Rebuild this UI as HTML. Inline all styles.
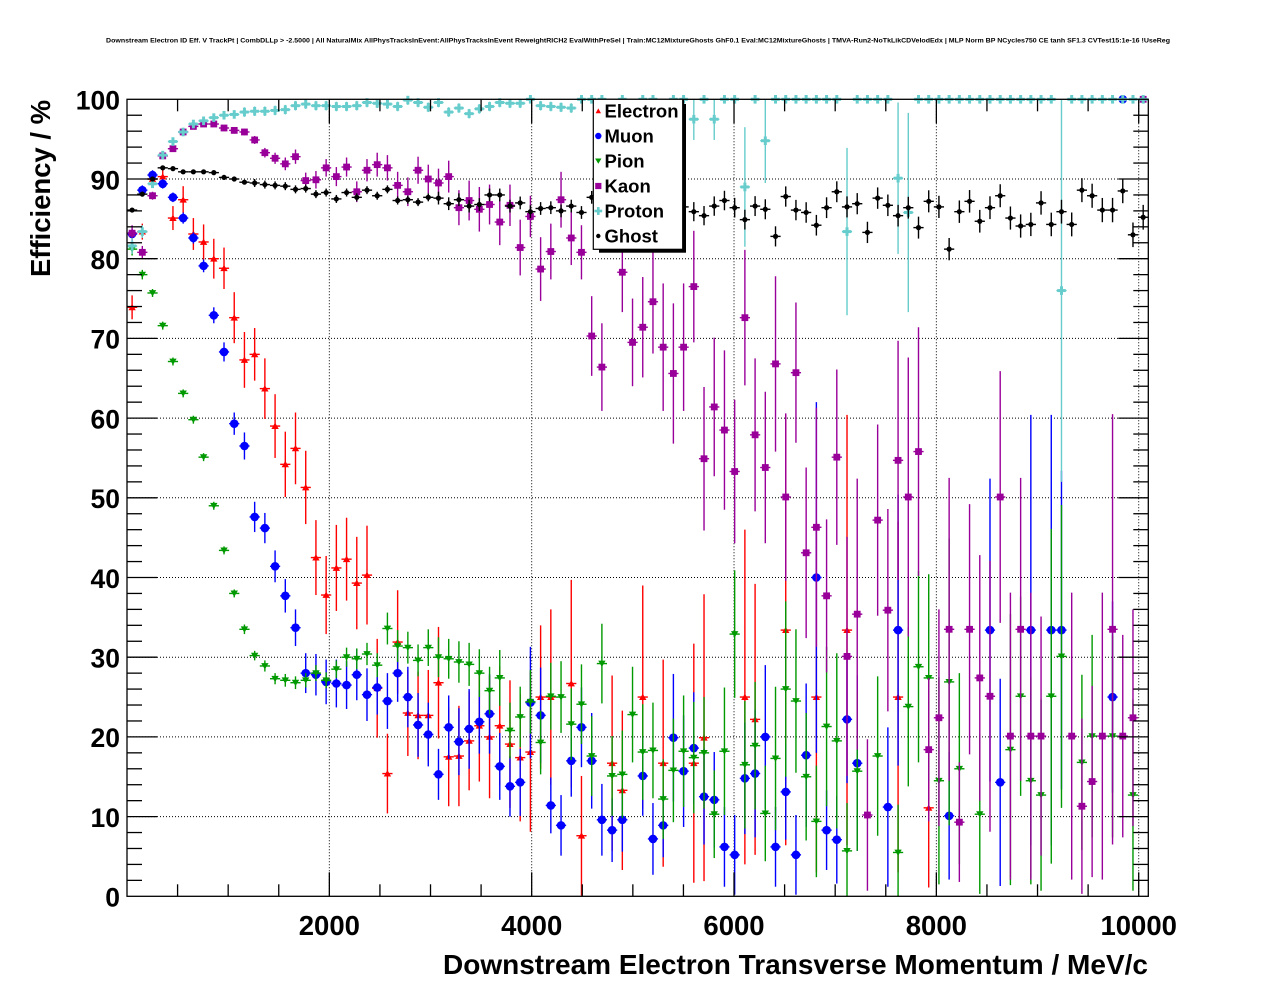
<!DOCTYPE html>
<html><head><meta charset="utf-8"><style>
html,body{margin:0;padding:0;background:#fff;}
svg{display:block;}
text{font-family:"Liberation Sans",Arial,sans-serif;font-weight:bold;fill:#000;}
</style></head><body>
<svg id="c" xmlns="http://www.w3.org/2000/svg" width="1276" height="996" viewBox="0 0 1276 996">
<rect x="0" y="0" width="1276" height="996" fill="#fff"/>
<text x="106" y="42.5" font-size="6.6" textLength="1064" lengthAdjust="spacingAndGlyphs">Downstream Electron ID Eff. V TrackPt | CombDLLp &gt; -2.5000 | All NaturalMix AllPhysTracksInEvent:AllPhysTracksInEvent ReweightRICH2 EvalWithPreSel | Train:MC12MixtureGhosts GhF0.1 Eval:MC12MixtureGhosts | TMVA-Run2-NoTkLikCDVelodEdx | MLP Norm BP NCycles750 CE tanh SF1.3 CVTest15:1e-16 !UseReg</text>
<g id="grid"></g>
<g id="data"></g>
<g id="axes"></g>
<g id="leg"></g>
<text x="1148" y="974" font-size="28" text-anchor="end" textLength="705" lengthAdjust="spacingAndGlyphs">Downstream Electron Transverse Momentum / MeV/c</text>
<text transform="translate(50,100) rotate(-90)" font-size="27.4" text-anchor="end" textLength="177" lengthAdjust="spacingAndGlyphs">Efficiency / %</text>
</svg>
<script>
const NS="http://www.w3.org/2000/svg";
function el(tag,a,p){const e=document.createElementNS(NS,tag);for(const k in a)e.setAttribute(k,a[k]);p.appendChild(e);return e;}
const grid=document.getElementById('grid'),data=document.getElementById('data'),axes=document.getElementById('axes'),leg=document.getElementById('leg');
const L=127,R=1148.3,T=99.3,B=896.3;
const X=b=>132.1+10.213*b;
const Y=v=>896.3-7.97*v;
const XM=m=>127+0.10117*m;

for(let m=2000;m<=10000;m+=2000){const x=XM(m);el('line',{x1:x,y1:T,x2:x,y2:B,stroke:'#000','stroke-width':1,'stroke-dasharray':'1 2'},grid);}
for(let v=10;v<100;v+=10){const y=Y(v);el('line',{x1:L,y1:y,x2:R,y2:y,stroke:'#000','stroke-width':1,'stroke-dasharray':'1 2'},grid);}

const E=[[0,73.9,1.5],[1,83.4,1],[2,90,1],[3,90.3,1.2],[4,85.1,1.5],[5,87.4,1.7],[6,83.1,2],[7,82.1,2.2],[8,80,2.5],[9,78.8,2.6],[10,72.6,3.2],[11,67.3,3.5],[12,68,3.3],[13,63.7,3.8],[14,59,4],[15,54.2,4.1],[16,56.2,4.5],[17,51.3,4.6],[18,42.5,4.7],[19,37.8,4.9],[20,41.2,5.4],[21,42.3,5.2],[22,39.3,5.8],[23,40.3,6.2],[24,26.1,6.2],[25,15.4,5],[26,31.9,6.5],[27,23,5.4],[28,22.7,5.5],[29,22.7,5.7],[30,26.8,7],[31,17.5,6.2],[32,17.6,6.3],[33,19.5,6.2],[34,21.4,7],[35,20,7.7],[36,21.4,7.5],[37,19.1,8],[38,17.4,8],[39,18.1,10],[40,25,9],[41,25,11],[43,26.7,13],[44,7.6,7.5],[47,16.7,11],[48,13.3,10],[50,25,14],[52,16.7,13],[55,16.7,15],[56,19.9,18],[60,25,21],[61,22.2,17],[64,33.4,27],[67,25,22],[70,33.4,27],[75,25,22],[78,11.1,10]];
const M=[[0,83.1,.6],[1,88.6,.6],[2,90.5,.6],[3,89.4,.6],[4,87.7,.6],[5,85.1,.7],[6,82.6,.7],[7,79.1,.8],[8,72.9,1],[9,68.3,1.2],[10,59.3,1.4],[11,56.5,1.7],[12,47.6,1.9],[13,46.2,1.9],[14,41.4,2],[15,37.7,2.1],[16,33.7,2.3],[17,28,2.5],[18,27.8,2.6],[19,26.9,2.8],[20,26.7,3],[21,26.5,3],[22,27.8,3.2],[23,25.3,3.3],[24,26.2,3.4],[25,24.5,3.5],[26,28,3.6],[27,25,3.8],[28,21.5,4],[29,20.3,4],[30,15.3,3.2],[31,21.2,4],[32,19.4,4.2],[33,21,5],[34,21.9,4],[35,22.9,5],[36,16.3,4.2],[37,13.8,3.8],[38,14.3,4.2],[39,24.3,7],[40,22.7,6],[41,11.4,3.5],[42,8.9,3.8],[43,17,4.5],[44,21.2,5],[45,17,6],[46,9.6,4.5],[47,8.3,4],[48,9.6,4],[50,15.1,5],[51,7.2,4.5],[52,8.9,4],[53,19.9,8],[54,15.7,7],[55,18.6,7],[56,12.5,6],[57,12.1,6],[58,6.2,5],[59,5.2,5],[60,14.8,7],[61,15.4,8],[62,20,9],[63,6.2,5],[64,13.1,6],[65,5.2,5],[66,17.7,9],[67,40,22],[68,8.3,5],[69,7.1,5.5],[70,22.2,8],[71,16.7,11],[74,11.2,10],[75,33.4,17],[80,10.1,8],[84,33.4,19],[85,14.3,13],[88,33.4,27],[90,33.4,27],[91,33.4,20],[96,25,12],[97,100,0]];
const P=[[0,81.2,.8],[1,78,.6],[2,75.7,.5],[3,71.6,.5],[4,67.1,.5],[5,63.1,.5],[6,59.8,.5],[7,55.1,.5],[8,49,.5],[9,43.4,.5],[10,38,.5],[11,33.5,.6],[12,30.2,.6],[13,28.9,.7],[14,27.3,.7],[15,27.1,.8],[16,26.8,.8],[17,27.1,.9],[18,28,1],[19,27.1,1],[20,28.5,1.1],[21,30,1.2],[22,29.8,1.3],[23,30.4,1.4],[24,29,1.5],[25,33.6,2],[26,31.4,2],[27,31.2,2],[28,29.6,2],[29,31.2,2.3],[30,30,2.5],[31,29.8,2.5],[32,29.4,2.6],[33,29.1,2.7],[34,28,3],[35,25.8,3],[36,27.4,3.5],[37,20.8,3.5],[38,22.5,3.8],[39,24.4,4],[40,19.3,4],[41,25.1,4.2],[42,25,4.5],[43,21.6,4.5],[44,24.1,5],[45,17.6,5],[46,29.2,5],[47,15.1,5],[48,15.3,5.5],[49,22.8,6],[50,18.1,6],[51,18.3,6],[52,12.2,5],[53,15.8,6.5],[54,18.2,7],[55,17.4,7],[56,18,7],[57,10.3,5.5],[58,18.2,8],[59,32.9,8],[60,16.5,8],[61,18.9,8],[62,10.4,6],[63,17.3,9],[64,26,11],[65,24.5,9],[66,15,8],[67,9.4,7],[68,21.3,10],[69,19.5,11],[70,5.7,6],[71,15.7,10],[73,17.6,10],[75,5.5,6],[76,23.8,10],[77,28.8,12],[78,27.4,13],[79,14.5,13],[80,26.9,18],[81,16,12],[83,10.3,10],[86,18.4,17],[87,25.1,12.5],[88,14.5,13],[89,12.7,12],[90,25.1,21],[91,30.1,19],[93,16.8,11],[94,20.1,12.7],[96,20.1,12.7],[98,12.7,12]];
const K=[[0,83.2,1],[1,80.8,.8],[2,87.9,.5],[3,92.9,.4],[4,93.8,.4],[5,95.9,.3],[6,96.6,.3],[7,96.9,.3],[8,96.9,.3],[9,96.4,.3],[10,96.1,.4],[11,95.9,.4],[12,94.9,.5],[13,93.3,.6],[14,92.6,.7],[15,91.9,.8],[16,92.8,.9],[17,89.8,1],[18,89.9,1.1],[19,91.4,1.1],[20,90.3,1.2],[21,91.5,1.2],[22,88.4,1.3],[23,91.1,1.4],[24,91.8,1.5],[25,91.4,1.6],[26,89.2,1.7],[27,88.4,1.8],[28,91.1,1.7],[29,90,1.8],[30,89.5,1.8],[31,90.3,2],[32,86.4,2.2],[33,87.3,2.5],[34,86.2,2.8],[35,86.8,2.5],[36,84.6,2.9],[37,86.7,2.6],[38,81.4,3.5],[39,85.3,2.6],[40,78.7,4],[41,80.9,3.5],[42,87.4,3.5],[43,82.6,3.4],[44,80.8,3.4],[45,70.3,5],[46,66.4,5.5],[47,85,4],[48,78.3,5],[49,69.5,5.5],[50,71.4,6.3],[51,74.6,6.5],[52,68.9,8],[53,65.6,8.8],[54,68.9,8],[55,76.5,7],[56,54.9,9],[57,61.4,8.7],[58,58.5,10],[59,53.3,9],[60,72.6,8.5],[61,57.9,9.6],[62,53.8,9.5],[63,66.8,11],[64,50.1,10.5],[65,65.7,8.8],[66,43.1,10.7],[67,46.3,15],[68,37.7,9.6],[69,55.1,11],[70,30.1,15],[71,35.4,17],[72,10.2,9.5],[73,47.2,12],[74,35.9,12.7],[75,54.7,15],[76,50.1,17.5],[77,55.8,15.6],[78,18.4,9],[79,22.4,13.6],[80,33.5,19],[81,9.3,7.5],[82,33.5,15.7],[83,27.4,15.4],[84,25.1,17],[85,50.1,15.8],[86,20.1,18],[87,33.5,19],[88,20.1,18],[89,20.1,15],[92,20.1,18],[93,11.3,11],[94,14.4,12],[95,20.1,18],[96,33.5,27],[97,20.1,12.7],[98,22.4,13.6],[99,100,0]];
const Cv=[81.6,83.4,89.4,93,94.7,95.9,96.9,97.3,97.7,98,98.1,98.4,98.5,98.5,98.6,98.7,99.2,99.4,99.2,99.2,99.1,99.1,99.2,99.6,99.5,99.4,99.1,99.9,99.6,99,99.6,98.4,98.9,98.2,98.8,99.1,99.6,99.5,99.5,100,99.2,99.1,99,98.9,100,100,100,97,100,97,100,100,97,100,100,97.5,100,97.5,100,100,89,100,94.8,100,100,100,100,100,100,100,83.4,100,100,100,100,90.1,85.8,100,100,100,100,100,100,100,100,100,100,100,100,100,100,76,100,100,100,100,100,100,100,100];
const Ce={0:1,1:.8,2:.5,3:.4,55:2.6,57:2.6,60:7.5,62:5.3,70:10.5,75:9.5,76:12.5,91:24};
const C=Cv.map((v,i)=>[i,v,Ce[i]!==undefined?Ce[i]:(v>=100?0:(i<11?0.3:0.6))]);
const Gv=[86.1,88.1,90,91.4,91.3,90.9,90.9,90.9,90.8,90.2,90,89.6,89.5,89.3,89.2,89.1,88.7,88.8,88.1,88.3,87.5,88.3,87.7,88.6,87.9,88.7,87.3,87.4,87.1,87.7,87.6,86.9,87.4,86.6,86.8,88,88,86.6,87,85.9,86.3,86.4,86,86.6,85.8,87.7,86.5,86.5,86.5,86.5,86.5,86.5,86.5,86.5,86.5,85.9,85.4,86.6,87.3,86.4,84.9,86.6,86.2,82.8,87.8,86.1,85.8,84.2,86.4,88.4,86.5,86.9,83.3,87.6,86.7,85.4,86.4,83.9,87.2,86.5,81.2,85.9,87.2,84.7,86.4,87.9,85.1,84.1,84.3,87,84.3,85.9,84.3,88.6,87.9,86.1,86.1,88.5,83,85.2];
const G=Gv.map((v,i)=>[i,v,i<12?0.25:(i<30?0.5:(i<46?0.8:1.2+0.008*(i-55)))]);

function tri(p,cx,cy,col,up){const h=up?-1:1;el('polygon',{points:`${cx-3.7},${cy-h*2.9} ${cx+3.7},${cy-h*2.9} ${cx},${cy+h*3.4}`,fill:col},p);}
const mk={
 E:(p,x,y)=>tri(p,x,y,'#ff0000',true),
 M:(p,x,y)=>el('circle',{cx:x,cy:y,r:4.3,fill:'#0000ff'},p),
 P:(p,x,y)=>tri(p,x,y,'#009900',false),
 K:(p,x,y)=>el('rect',{x:x-3.4,y:y-3.4,width:6.8,height:6.8,fill:'#990099'},p),
 C:(p,x,y)=>{el('rect',{x:x-4.3,y:y-1.5,width:8.6,height:3,fill:'#66cccc'},p);el('rect',{x:x-1.5,y:y-4.3,width:3,height:8.6,fill:'#66cccc'},p);},
 G:(p,x,y)=>el('circle',{cx:x,cy:y,r:2.6,fill:'#000'},p)
};
const cols={E:'#ff0000',M:'#0000ff',P:'#009900',K:'#990099',C:'#66cccc',G:'#000'};
function series(arr,key){
 const col=cols[key];
 for(const [b,v,e] of arr){
  const x=X(b),y=Y(v);
  if(e>0){const y1=Y(Math.min(100,v+e)),y2=Y(Math.max(0,v-e));el('line',{x1:x,y1:y1,x2:x,y2:y2,stroke:col,'stroke-width':1.4},data);}
  el('line',{x1:x-5.1,y1:y,x2:x+5.1,y2:y,stroke:col,'stroke-width':1.4},data);
 }
 for(const [b,v] of arr){mk[key](data,X(b),Y(v));}
}
series(E,'E');series(M,'M');series(P,'P');series(K,'K');series(C,'C');series(G,'G');

el('rect',{x:L,y:T,width:R-L,height:B-T,fill:'none',stroke:'#000','stroke-width':1.3},axes);
for(let m=500;m<=10000;m+=500){const x=XM(m);const len=(m%2000===0)?24:12;
 el('line',{x1:x,y1:B,x2:x,y2:B-len,stroke:'#000','stroke-width':1.3},axes);
 el('line',{x1:x,y1:T,x2:x,y2:T+len,stroke:'#000','stroke-width':1.3},axes);}
for(let v=2;v<100;v+=2){const y=Y(v);const len=(v%10===0)?30:15;
 el('line',{x1:L,y1:y,x2:L+len,y2:y,stroke:'#000','stroke-width':1.3},axes);
 el('line',{x1:R,y1:y,x2:R-len,y2:y,stroke:'#000','stroke-width':1.3},axes);}
for(let v=0;v<=100;v+=10){const t=el('text',{x:120,y:Y(v)+10.3,'font-size':26.5,'text-anchor':'end'},axes);t.textContent=String(v);}
for(let m=2000;m<=10000;m+=2000){const t=el('text',{x:XM(m),y:935,'font-size':27.5,'text-anchor':'middle'},axes);t.textContent=String(m);}

el('rect',{x:599,y:104,width:87,height:148.7,fill:'#000'},leg);
el('rect',{x:593.3,y:99.3,width:89.4,height:150,fill:'#fff',stroke:'#000','stroke-width':1.2},leg);
const names=[['E','Electron'],['M','Muon'],['P','Pion'],['K','Kaon'],['C','Proton'],['G','Ghost']];
names.forEach(([k,n],i)=>{const cy=111+25*i;
 if(k==='M')el('circle',{cx:598.3,cy:cy,r:3.2,fill:'#0000ff'},leg);
 else if(k==='E')el('polygon',{points:`${595.6},${cy+2.3} ${601},${cy+2.3} ${598.3},${cy-2.6}`,fill:'#ff0000'},leg);
 else if(k==='P')el('polygon',{points:`${595.1},${cy-2.5} ${601.5},${cy-2.5} ${598.3},${cy+2.8}`,fill:'#009900'},leg);
 else if(k==='K')el('rect',{x:595.2,y:cy-3.1,width:6.2,height:6.2,fill:'#990099'},leg);
 else if(k==='C'){el('rect',{x:594.4,y:cy-1.3,width:7.8,height:2.6,fill:'#66cccc'},leg);el('rect',{x:597,y:cy-3.9,width:2.6,height:7.8,fill:'#66cccc'},leg);}
 else el('circle',{cx:598.3,cy:cy,r:2.2,fill:'#000'},leg);
 const t=el('text',{x:604.5,y:cy+6.7,'font-size':18.5},leg);t.textContent=n;});
</script>
</body></html>
